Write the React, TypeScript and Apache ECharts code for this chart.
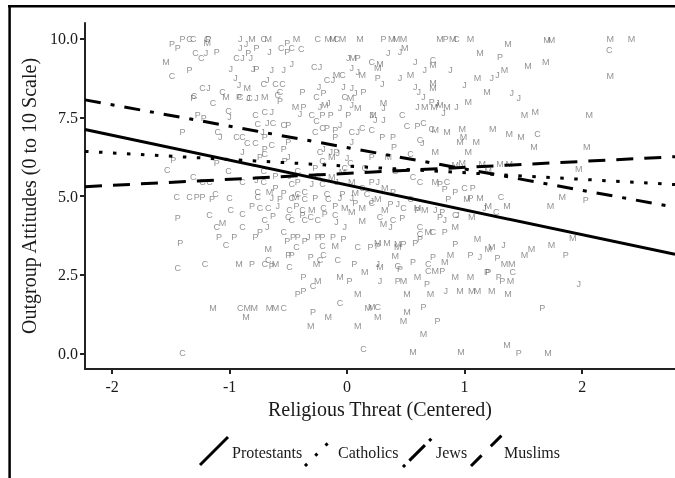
import React, { useEffect, useRef } from "react";
import * as echarts from "echarts";

// ---- axes ----
const xTicks = [-2, -1, 0, 1, 2];
const yTicks = [0, 2.5, 5, 7.5, 10];
const xRange = [-2.23, 2.79];
const yRange = [-0.5, 10.5];

// ---- groups & fitted lines ----
const groups = ["Protestants", "Catholics", "Jews", "Muslims"];
const letters = ["P", "C", "J", "M"];
const intercepts = [5.35, 5.95, 6.54, 5.72];
const slopes = [-0.79, -0.21, -0.68, 0.19];

// ---- scatter points [religious threat, outgroup attitude] ----
const protestantPoints = [
  [-1.49, 9.84], [-1.44, 9.71], [-1.4, 10.0], [-1.18, 10.0], [-1.11, 9.59], [-1.34, 9.02], [-1.31, 8.13], [-0.92, 8.16],
  [-1.27, 7.59], [-1.22, 7.49], [-1.4, 7.02], [-1.48, 6.16], [-1.11, 6.06], [-0.84, 9.56], [-0.77, 9.71], [-0.77, 9.05],
  [-0.51, 9.87], [-0.51, 9.59], [0.09, 9.4], [-0.57, 8.03], [-0.38, 8.32], [-0.2, 8.29], [0.14, 8.32], [-0.37, 7.84],
  [-0.21, 7.59], [-0.14, 7.59], [0.01, 7.59], [-0.5, 7.27], [-0.17, 7.17], [-0.1, 7.11], [-0.7, 6.86], [-0.5, 6.73],
  [-0.09, 6.41], [-0.7, 6.48], [-0.54, 6.48], [-0.1, 6.86], [-0.74, 6.25], [-0.53, 6.1], [0.21, 6.25], [-0.27, 5.9],
  [-0.61, 5.62], [-0.61, 5.27], [-0.42, 5.46], [0.21, 5.46], [-0.54, 5.11], [-0.04, 5.05], [0.31, 10.0], [0.84, 10.0],
  [0.26, 8.76], [0.72, 8.0], [0.6, 7.21], [0.3, 6.86], [0.39, 6.86], [0.4, 6.57], [0.79, 5.37], [1.07, 5.27],
  [0.83, 5.21], [0.92, 5.14], [0.39, 5.14], [1.3, 9.43],
  [-1.28, 4.98], [-1.23, 4.98], [-1.15, 4.92], [-1.44, 4.29], [-0.81, 4.67], [-1.42, 3.49], [-1.09, 3.71], [-0.96, 3.71],
  [-0.78, 3.71], [-0.81, 2.83], [-0.64, 2.76], [-0.57, 4.89], [-0.27, 4.95], [0.07, 4.79], [-0.43, 4.67], [-0.1, 4.67],
  [-0.63, 4.35], [-0.38, 4.41], [-0.19, 4.44], [-0.74, 3.87], [-0.46, 3.71], [-0.42, 3.71], [-0.36, 3.56], [-0.25, 3.71],
  [-0.21, 3.71], [-0.12, 3.71], [-0.03, 3.62], [0.2, 3.37], [-0.51, 3.56], [-0.5, 3.14], [-0.47, 3.14], [-0.31, 3.05],
  [0.06, 2.83], [-0.37, 2.44], [0.02, 2.29], [-0.37, 1.97], [-0.42, 1.87], [-0.29, 1.3], [0.37, 4.73], [0.6, 4.57],
  [0.81, 4.48], [1.05, 4.95], [0.86, 4.89], [0.47, 4.29], [0.79, 4.32], [0.62, 3.62], [0.26, 3.4], [0.48, 3.46],
  [0.58, 3.52], [0.73, 3.05], [1.05, 3.14], [0.92, 3.46], [0.83, 3.87], [0.45, 2.67], [0.56, 2.89], [0.81, 2.6],
  [1.19, 2.57], [0.43, 2.29], [0.68, 2.19], [0.65, 1.46], [0.77, 1.02], [1.86, 3.14], [1.28, 3.02], [1.2, 2.57],
  [1.29, 2.44], [1.32, 2.29], [1.66, 1.43], [1.46, 0.0], [2.03, 4.86],
];

const catholicPoints = [
  [-1.34, 10.0], [-1.31, 10.0], [-1.19, 10.0], [-1.29, 9.56], [-1.24, 9.4], [-1.49, 8.83], [-1.23, 8.44], [-1.3, 8.19],
  [-1.14, 7.97], [-1.06, 8.32], [-0.91, 8.16], [-0.83, 8.13], [-1.01, 7.71], [-1.1, 7.02], [-0.94, 6.86], [-0.89, 6.86],
  [-0.85, 6.7], [-0.78, 6.7], [-1.53, 5.84], [-1.23, 5.46], [-1.17, 5.46], [-1.31, 5.59], [-0.71, 10.0], [-0.56, 9.71],
  [-0.47, 9.71], [-0.39, 9.68], [-0.25, 10.0], [-0.09, 10.0], [-0.94, 9.4], [-0.28, 9.11], [0.21, 9.27], [-0.71, 8.57],
  [-0.61, 8.57], [-0.55, 8.57], [-0.57, 8.32], [-0.17, 8.7], [-0.04, 8.86], [-0.59, 8.22], [-0.26, 8.16], [-0.02, 8.16],
  [-0.7, 7.68], [-0.3, 7.59], [-0.78, 7.59], [-0.63, 7.33], [-0.54, 7.27], [-0.26, 7.37], [-0.21, 7.17], [0.04, 7.05],
  [0.13, 7.17], [-0.76, 7.3], [-0.27, 7.02], [-0.64, 6.63], [-0.23, 6.41], [-0.7, 6.32], [-0.21, 6.1], [0.03, 6.06],
  [-0.71, 5.78], [-0.42, 5.78], [-0.25, 5.62], [-0.02, 5.9], [0.15, 5.9], [-0.71, 5.43], [-0.47, 5.37], [-0.21, 5.37],
  [0.13, 5.27], [-0.76, 5.14], [-0.36, 5.14], [-0.42, 5.05], [-0.17, 5.05], [0.17, 5.05], [-1.01, 5.78], [-0.89, 5.46],
  [0.73, 9.33], [0.47, 7.59], [0.21, 7.11], [0.51, 7.21], [0.65, 7.33], [0.72, 7.14], [0.62, 6.79], [0.54, 6.32],
  [0.41, 5.78], [0.56, 5.59], [0.62, 5.46], [0.85, 5.46], [1.0, 5.27], [0.93, 10.0], [1.62, 6.98], [2.23, 9.65],
  [-1.45, 4.98], [-1.34, 4.98], [-1.12, 5.05], [-1.0, 4.95], [-1.17, 4.41], [-0.99, 4.54], [-0.89, 4.44], [-1.11, 4.0],
  [-0.89, 4.0], [-1.03, 3.43], [-1.44, 2.7], [-1.21, 2.83], [-0.91, 1.43], [-1.4, 0.0], [-0.76, 4.98], [-0.47, 4.95],
  [-0.36, 4.89], [-0.16, 4.89], [0.21, 4.79], [-0.74, 4.63], [-0.67, 4.63], [-0.49, 4.57], [-0.38, 4.57], [-0.2, 4.63],
  [-0.7, 4.25], [-0.5, 4.32], [-0.47, 4.25], [-0.36, 4.25], [-0.31, 4.32], [-0.25, 4.25], [-0.1, 4.41], [-0.54, 3.87],
  [-0.21, 3.4], [0.09, 3.37], [-0.43, 3.37], [-0.67, 2.98], [-0.7, 2.83], [-0.49, 2.73], [-0.2, 3.14], [-0.23, 2.98],
  [-0.08, 2.98], [-0.29, 2.13], [-0.06, 1.59], [-0.54, 1.43], [0.14, 0.13], [0.48, 4.63], [0.54, 4.89], [0.28, 4.32],
  [0.39, 4.25], [0.62, 4.03], [0.62, 3.78], [0.73, 3.87], [0.92, 4.41], [0.43, 2.76], [0.69, 2.83], [0.69, 2.6],
  [0.26, 1.46], [1.27, 4.48], [1.31, 4.98], [1.41, 2.57],
];

const jewishPoints = [
  [-1.2, 9.56], [-1.18, 8.44], [-0.77, 8.13], [-1.0, 7.52], [-1.08, 6.86], [-0.89, 6.41], [-0.91, 10.0], [-0.86, 9.84],
  [-0.91, 9.71], [-0.89, 9.4], [-0.82, 9.4], [-0.99, 9.05], [-0.8, 9.05], [-0.95, 8.76], [-0.92, 8.54], [-0.84, 8.13],
  [-0.66, 9.59], [-0.47, 9.21], [-0.64, 9.02], [-0.54, 9.02], [-0.23, 9.11], [0.01, 9.4], [0.04, 9.08], [0.09, 8.95],
  [-0.68, 8.7], [-0.24, 8.48], [-0.12, 8.7], [-0.03, 8.48], [0.04, 8.44], [0.07, 8.29], [-0.23, 7.84], [-0.16, 7.97],
  [-0.06, 7.81], [0.04, 7.9], [-0.64, 7.68], [-0.4, 7.62], [0.21, 7.59], [-0.68, 7.33], [-0.06, 7.27], [0.09, 7.02],
  [-0.72, 7.02], [-0.2, 6.48], [-0.14, 6.41], [0.04, 6.73], [-0.5, 6.25], [-0.08, 6.38], [0.0, 6.22], [-0.77, 5.52],
  [-0.49, 5.62], [-0.3, 5.37], [-0.09, 5.46], [0.35, 9.56], [0.45, 9.59], [0.58, 9.27], [0.66, 9.02], [0.88, 9.02],
  [0.45, 8.76], [0.3, 8.57], [0.58, 8.48], [0.61, 8.32], [0.65, 8.16], [1.0, 8.54], [0.77, 7.97], [0.6, 7.84],
  [0.93, 7.84], [0.31, 7.81], [0.24, 7.43], [0.31, 7.43], [0.82, 7.65], [0.64, 6.7], [0.26, 5.46], [1.28, 8.86],
  [1.23, 8.76], [1.4, 8.29], [1.46, 8.13], [-0.64, 4.95], [-0.06, 4.95], [0.04, 4.95], [-0.59, 4.67], [-0.68, 4.0],
  [-0.33, 3.71], [-0.02, 4.0], [-0.09, 4.16], [0.21, 4.83], [0.43, 4.73], [0.75, 4.57], [0.94, 4.41], [0.37, 4.0],
  [0.83, 4.25], [1.17, 4.63], [0.26, 2.83], [0.28, 2.29], [0.84, 1.97], [1.13, 3.05], [1.33, 3.43], [1.97, 2.19],
];

const muslimPoints = [
  [-1.19, 9.87], [-1.54, 9.27], [-1.03, 8.16], [-0.81, 10.0], [-0.67, 10.0], [-0.85, 8.44], [-0.43, 10.0], [-0.16, 10.0],
  [-0.12, 10.0], [-0.04, 10.0], [0.11, 10.0], [0.05, 9.4], [0.13, 8.86], [-0.09, 8.86], [-0.7, 8.16], [0.03, 8.13],
  [-0.44, 7.84], [-0.19, 7.9], [0.09, 7.81], [-0.13, 6.25], [-0.04, 5.75], [-0.13, 5.59], [0.04, 5.46], [-0.66, 5.14],
  [0.07, 5.11], [0.38, 10.0], [0.42, 10.0], [0.48, 10.0], [0.79, 10.0], [0.9, 10.0], [1.05, 10.0], [0.49, 9.71],
  [1.13, 9.56], [0.28, 9.21], [0.26, 9.08], [0.73, 9.17], [0.54, 8.86], [0.73, 8.6], [0.73, 8.44], [1.11, 8.76],
  [1.19, 8.32], [0.66, 7.84], [0.74, 7.84], [0.79, 7.9], [0.85, 7.84], [1.03, 8.0], [0.31, 7.97], [0.22, 7.59],
  [0.75, 7.11], [0.85, 7.02], [0.98, 7.14], [0.96, 6.73], [0.99, 6.86], [1.1, 6.73], [0.75, 6.41], [1.03, 6.41],
  [0.35, 6.25], [0.92, 6.0], [0.98, 6.06], [1.15, 6.03], [0.75, 5.46], [0.32, 5.27], [1.37, 9.84], [1.7, 9.97],
  [1.74, 9.97], [1.34, 9.02], [1.54, 9.14], [1.69, 9.27], [1.51, 7.56], [1.6, 7.68], [2.06, 7.56], [1.24, 7.14],
  [1.38, 6.98], [1.48, 6.86], [1.59, 6.57], [2.04, 6.57], [1.3, 6.03], [1.38, 6.03], [1.97, 5.87], [1.2, 5.78],
  [2.24, 10.0], [2.42, 10.0], [2.24, 8.83],
  [-1.06, 4.13], [-0.92, 2.83], [-1.14, 1.43], [-0.85, 1.43], [-0.79, 1.43], [-0.86, 1.14], [-0.67, 3.3], [-0.61, 2.83],
  [-0.26, 2.83], [0.15, 2.57], [-0.06, 2.44], [-0.25, 2.29], [0.09, 1.87], [-0.66, 1.43], [-0.61, 1.43], [-0.16, 1.14],
  [-0.31, 0.86], [0.09, 0.86], [0.18, 1.43], [-0.44, 4.98], [0.13, 4.63], [-0.3, 4.57], [-0.02, 4.63], [0.04, 4.48],
  [0.13, 4.19], [-0.1, 3.4], [0.26, 4.89], [0.32, 4.57], [0.66, 4.57], [1.02, 4.89], [1.13, 4.95], [0.6, 4.63],
  [1.06, 4.32], [0.31, 4.1], [0.69, 3.87], [0.26, 3.52], [0.34, 3.52], [0.43, 3.46], [0.43, 3.37], [0.41, 3.08],
  [0.88, 3.14], [1.11, 3.62], [0.92, 4.03], [0.28, 2.73], [0.83, 2.89], [0.6, 2.44], [0.75, 2.6], [0.92, 2.44],
  [1.05, 2.44], [0.48, 2.29], [0.71, 1.87], [0.96, 1.97], [1.06, 1.97], [1.11, 1.97], [0.51, 1.87], [0.21, 1.46],
  [0.26, 1.14], [0.51, 1.3], [0.48, 1.02], [0.65, 0.6], [0.56, 0.03], [0.97, 0.03], [1.2, 3.3], [1.23, 3.37],
  [1.51, 3.14], [1.57, 3.3], [1.74, 3.43], [1.34, 2.83], [1.4, 2.83], [1.39, 2.29], [1.23, 1.97], [1.37, 1.87],
  [1.36, 0.25], [1.71, 0.0], [1.83, 4.98], [1.2, 4.67], [1.36, 4.67], [1.73, 4.67], [1.92, 3.68],
];

const pointSets = [protestantPoints, catholicPoints, jewishPoints, muslimPoints];

const SERIF = '"Liberation Serif", "Times New Roman", serif';
const INK = "#1a1a1a";
const LETTER_GRAY = "#4d4d4d";
const lineDashes: any[] = ["solid", [3.5, 10.5], [16, 10, 4, 10], [17, 11]];

export default function App() {
  const ref = useRef<HTMLDivElement>(null);

  useEffect(() => {
    if (!ref.current) return;
    const chart = echarts.init(ref.current, null, { renderer: "svg" });

    const letterSeries = pointSets.map((pts, i) => ({
      type: "custom",
      name: groups[i] + " points",
      data: pts,
      z: 1,
      silent: true,
      itemStyle: { color: LETTER_GRAY },
      renderItem: (params: any, api: any) => {
        const p = api.coord([api.value(0), api.value(1)]);
        return {
          type: "text",
          x: p[0],
          y: p[1],
          style: {
            text: letters[i],
            fill: LETTER_GRAY,
            opacity: 0.62,
            fontSize: 9,
            fontFamily: '"Liberation Sans", Arial, sans-serif',
            align: "center",
            verticalAlign: "middle",
          },
        };
      },
    }));

    const lineSeries = groups.map((g, i) => ({
      type: "line",
      name: g,
      z: 5,
      symbol: "none",
      silent: true,
      data: xRange.map((x) => [x, intercepts[i] + slopes[i] * x]),
      lineStyle: { color: "#000", width: 3, type: lineDashes[i], cap: "butt" },
    }));

    // legend glyph geometry
    const glyphs = [
      { x1: 200, y1: 465, x2: 228, y2: 437, tx: 232 },
      { x1: 305, y1: 466, x2: 333, y2: 438, tx: 338 },
      { x1: 403, y1: 467, x2: 434, y2: 436, tx: 436 },
      { x1: 471, y1: 466, x2: 502, y2: 435, tx: 504 },
    ];
    const legendDash: any[] = [null, [3, 11.5], [3, 6, 22, 6, 3, 20], [15, 13, 15, 10]];

    const legendGraphics: any[] = [];
    glyphs.forEach((gl, i) => {
      legendGraphics.push({
        type: "line",
        shape: { x1: gl.x1, y1: gl.y1, x2: gl.x2, y2: gl.y2 },
        style: { stroke: "#000", lineWidth: 3, lineDash: legendDash[i] || undefined },
      });
      legendGraphics.push({
        type: "text",
        x: gl.tx,
        y: 452,
        style: {
          text: groups[i],
          fill: INK,
          fontSize: 16,
          fontFamily: SERIF,
          align: "left",
          verticalAlign: "middle",
        },
      });
    });

    chart.setOption({
      animation: false,
      grid: { left: 85, top: 23, right: 0, height: 346, containLabel: false },
      xAxis: {
        type: "value",
        min: xRange[0],
        max: xRange[1],
        splitLine: { show: false },
        axisLine: { onZero: false, lineStyle: { color: "#222", width: 2 } },
        axisTick: { customValues: xTicks, length: 5, lineStyle: { color: "#222", width: 2 } },
        axisLabel: {
          customValues: xTicks,
          margin: 9,
          color: INK,
          fontSize: 16,
          fontFamily: SERIF,
          formatter: (v: number) => String(v),
        },
        name: "Religious Threat (Centered)",
        nameLocation: "middle",
        nameGap: 27,
        nameTextStyle: { color: INK, fontSize: 20, fontFamily: SERIF, verticalAlign: "top" },
      },
      yAxis: {
        type: "value",
        min: yRange[0],
        max: yRange[1],
        splitLine: { show: false },
        axisLine: { onZero: false, lineStyle: { color: "#222", width: 2 } },
        axisTick: { customValues: yTicks, length: 5, lineStyle: { color: "#222", width: 2 } },
        axisLabel: {
          customValues: yTicks,
          margin: 7,
          color: INK,
          fontSize: 16,
          fontFamily: SERIF,
          formatter: (v: number) => v.toFixed(1),
        },
        name: "Outgroup Attitudes (0 to 10 Scale)",
        nameLocation: "middle",
        nameGap: 38,
        nameRotate: 90,
        nameTextStyle: { color: INK, fontSize: 20, fontFamily: SERIF },
      },
      series: [...letterSeries, ...lineSeries],
      graphic: [
        { type: "line", shape: { x1: 8, y1: 6.2, x2: 675, y2: 6.2 }, style: { stroke: "#000", lineWidth: 2.5 } },
        { type: "line", shape: { x1: 9.6, y1: 5, x2: 9.6, y2: 478 }, style: { stroke: "#000", lineWidth: 2.5 } },
        ...legendGraphics,
      ],
    });

    return () => chart.dispose();
  }, []);

  return (
    <div
      ref={ref}
      style={{
        position: "absolute",
        left: 0,
        top: 0,
        width: 675,
        height: 478,
        background: "#fff",
        willChange: "transform",
        WebkitFontSmoothing: "antialiased",
      }}
    />
  );
}
